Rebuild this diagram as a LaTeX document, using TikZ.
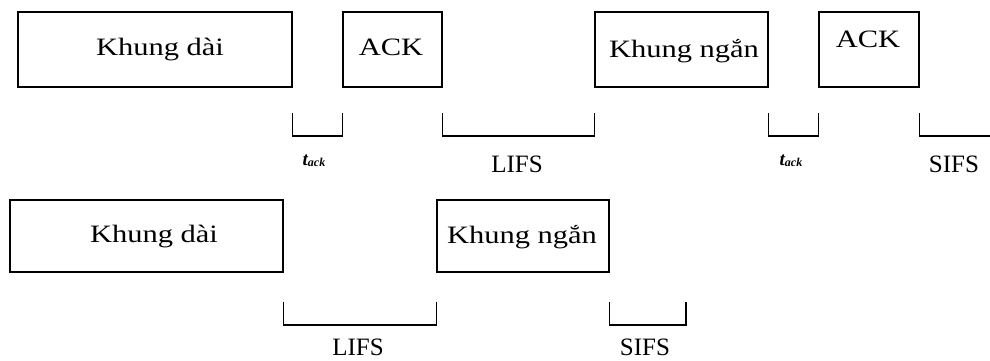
\documentclass[tikz,border=0pt]{standalone}
\usepackage{fontspec}
\setmainfont{Liberation Serif}
\newfontfamily\wideserif{Liberation Serif}[FakeStretch=1.22]
\begin{document}
\begin{tikzpicture}[x=1pt,y=-1pt,
  frame/.style={draw=black, line width=1.4pt, inner sep=0pt, minimum height=75pt},
  boxtext/.style={font=\wideserif\fontsize{25}{25}\selectfont, anchor=base, inner sep=0pt},
  lab/.style={font=\fontsize{25}{25}\selectfont, anchor=base, inner sep=0pt},
  tlab/.style={anchor=base, inner sep=0pt},
  brk/.style={draw=black, line width=1.4pt}]
\useasboundingbox (0,0) rectangle (990,360);
% top row boxes
\node[frame, minimum width=274pt] (kd1) at (155,49.5) {};
\node[frame, minimum width=99pt] (ack1) at (392.5,49.5) {};
\node[frame, minimum width=173pt] (kn1) at (681.5,49.5) {};
\node[frame, minimum width=100pt] (ack2) at (869,49.5) {};
% bottom row boxes
\node[frame, minimum width=273pt, minimum height=72pt] (kd2) at (146.5,236) {};
\node[frame, minimum width=172pt, minimum height=72pt] (kn2) at (523,236) {};
% box texts
\node[boxtext] (tkd1) at (160,55) {Khung dài};
\node[boxtext] (tack1) at (391,55) {ACK};
\node[boxtext] (tkn1) at (684,57) {Khung ngắn};
\node[boxtext] (tack2) at (868,47) {ACK};
\node[boxtext] (tkd2) at (154,242) {Khung dài};
\node[boxtext] (tkn2) at (522,243) {Khung ngắn};
% bracket levels
\coordinate (u1) at (0,113);
\coordinate (u2) at (0,136);
\coordinate (v1) at (0,302);
\coordinate (v2) at (0,325);
\coordinate (edgeA) at (992,136);
\coordinate (edgeB) at (686,325);
% top brackets
\draw[brk] (kd1.east |- u1) -- (kd1.east |- u2) -- (ack1.west |- u2) -- (ack1.west |- u1);
\draw[brk] (ack1.east |- u1) -- (ack1.east |- u2) -- (kn1.west |- u2) -- (kn1.west |- u1);
\draw[brk] (kn1.east |- u1) -- (kn1.east |- u2) -- (ack2.west |- u2) -- (ack2.west |- u1);
\draw[brk] (ack2.east |- u1) -- (ack2.east |- u2) -- (edgeA);
% bottom brackets
\draw[brk] (kd2.east |- v1) -- (kd2.east |- v2) -- (kn2.west |- v2) -- (kn2.west |- v1);
\draw[brk] (kn2.east |- v1) -- (kn2.east |- v2) -- (edgeB) -- (edgeB |- v1);
% labels
\node[tlab] (lt1) at (314,165) {\fontsize{19}{19}\selectfont\bfseries\itshape t\raisebox{-1.5pt}{\fontsize{12}{12}\selectfont ack}};
\node[lab] (ll1) at (517,172) {LIFS};
\node[tlab] (lt2) at (791,165) {\fontsize{19}{19}\selectfont\bfseries\itshape t\raisebox{-1.5pt}{\fontsize{12}{12}\selectfont ack}};
\node[lab] (ls1) at (954,172) {SIFS};
\node[lab] (ll2) at (358,355) {LIFS};
\node[lab] (ls2) at (645,355) {SIFS};
\end{tikzpicture}
\end{document}
